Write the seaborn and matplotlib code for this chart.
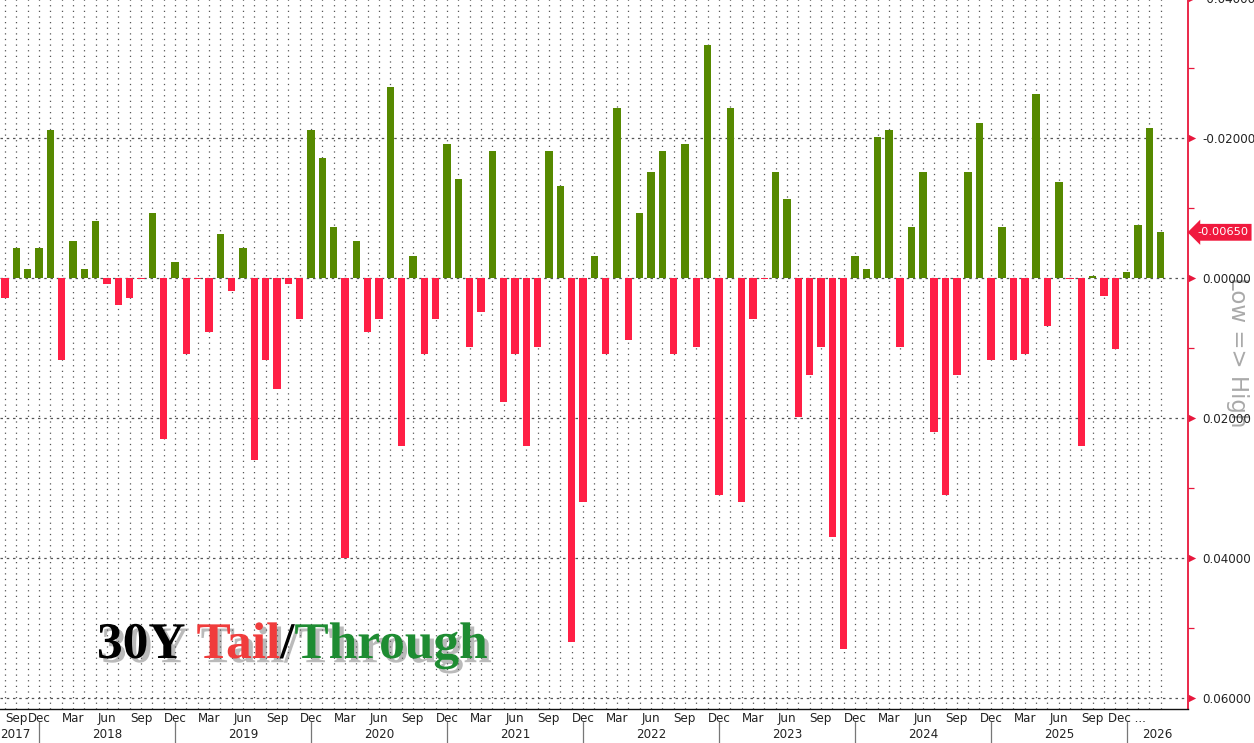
import numpy as np
import pandas as pd
import matplotlib
matplotlib.use("Agg")
import matplotlib.pyplot as plt
import matplotlib.patheffects as pe
import matplotlib.transforms as mtransforms
from matplotlib.lines import Line2D
from matplotlib.ticker import FuncFormatter
import seaborn as sns

# ---- data: 30Y auction tail (+) / through (-), monthly, Sep 2017 onward ----
tail_through = [
    0.0029, -0.0042, -0.0012, -0.0042, -0.0211, 0.0118, -0.0052, -0.0012, -0.0081, 0.0009,
    0.0039, 0.0029, 0.00015, -0.0092, 0.0230, -0.0022, 0.0109, 0.00015, 0.0078, -0.0062,
    0.0019, -0.0042, 0.0260, 0.0118, 0.0159, 0.0009, 0.0059, -0.0211, -0.0171, -0.0072,
    0.0400, -0.0052, 0.0078, 0.0059, -0.0272, 0.0240, -0.0031, 0.0109, 0.0059, -0.0191,
    -0.0141, 0.0099, 0.0049, -0.0181, 0.0178, 0.0109, 0.0240, 0.0099, -0.0181, -0.0131,
    0.0520, 0.0320, -0.0031, 0.0109, -0.0242, 0.0089, -0.0092, -0.0151, -0.0181, 0.0109,
    -0.0191, 0.0099, -0.0332, 0.0310, -0.0242, 0.0320, 0.0059, 0.00015, -0.0151, -0.0112,
    0.0199, 0.0139, 0.0099, 0.0370, 0.0530, -0.0031, -0.0012, -0.0201, -0.0211, 0.0099,
    -0.0072, -0.0151, 0.0220, 0.0310, 0.0139, -0.0151, -0.0221, 0.0118, -0.0072, 0.0118,
    0.0109, -0.0262, 0.0069, -0.0137, 0.00015, 0.0240, -0.0003, 0.0026, 0.0101, -0.0009,
    -0.0076, -0.0214, -0.0065,
]
quarter_months = ["Sep", "Dec", "Mar", "Jun"]
years = ["2017", "2018", "2019", "2020", "2021", "2022", "2023", "2024", "2025", "2026"]
y_major = [-0.04, -0.02, 0.0, 0.02, 0.04, 0.06]
y_minor = [-0.03, -0.01, 0.01, 0.03, 0.05]
last_value_label = "-0.00650"

RED = "#ff1f45"
GREEN = "#568900"
SPINE_RED = "#e8173c"

vals = np.array(tail_through)
n = len(vals)
df = pd.DataFrame({
    "pos": np.arange(n),
    "val": vals,
    "kind": np.where(vals > 0, "Tail", "Through"),
})

sns.set_theme(style="white")
plt.rcParams["font.family"] = ["DejaVu Sans"]
plt.rcParams["axes.unicode_minus"] = False

W, H = 1254, 743
fig = plt.figure(figsize=(W / 100, H / 100), dpi=100)
fig.patch.set_facecolor("white")
ax = fig.add_axes([0, 34 / H, 1188 / W, 714 / H])
ax.set_facecolor("white")

sns.barplot(data=df, x="pos", y="val", hue="kind",
            palette={"Tail": RED, "Through": GREEN}, saturation=1,
            dodge=False, width=0.65, legend=False, errorbar=None,
            native_scale=True, linewidth=0, ax=ax)

ax.set_xlim(-0.44, 104.4)
ax.set_ylim(0.0616, -0.0404)
ax.set_xlabel("")
ax.set_ylabel("")

# x ticks
major_pos = list(range(0, 100, 3))
labels = [quarter_months[k % 4] for k in range(len(major_pos))]
labels[-1] = "Dec ..."
ax.set_xticks(major_pos)
ax.set_xticklabels(labels, fontsize=8.6, color="#222222")
ax.set_xticks(range(n), minor=True)
ax.tick_params(axis="x", which="both", direction="in", length=3, width=0.8,
               color="#333333", pad=2)
lab0 = ax.get_xticklabels()[0]
lab0.set_ha("left")
lab0.set_x(-0.44)

# vertical dotted grid at every month, horizontal at majors
ax.grid(which="both", axis="x", color="#555555", linestyle=(0, (1, 3.5)), linewidth=0.9)
ax.set_yticks(y_major)
ax.set_yticks(y_minor, minor=True)
ax.grid(which="major", axis="y", color="#555555", linestyle=(0, (2, 3)), linewidth=0.9)
ax.set_axisbelow(True)

# y axis on right
ax.yaxis.tick_right()
ax.yaxis.set_major_formatter(FuncFormatter(lambda v, p: "0.00000" if abs(v) < 1e-12 else f"{v:.5f}"))
ax.tick_params(axis="y", which="major", length=0, pad=10, labelsize=8.6, labelcolor="#222222")
ax.tick_params(axis="y", which="minor", length=4, width=0.9, color=SPINE_RED, direction="out")

for s in ["left", "top"]:
    ax.spines[s].set_visible(False)
ax.spines["right"].set_color(SPINE_RED)
ax.spines["right"].set_linewidth(1.3)
ax.spines["bottom"].set_color("#111111")
ax.spines["bottom"].set_linewidth(1.0)

# red triangles at major y ticks
tri_tr = mtransforms.blended_transform_factory(ax.transAxes, ax.transData)
ax.scatter([1.0 + 3.5 / 1188] * len(y_major), y_major, marker=">", s=28,
           color=SPINE_RED, transform=tri_tr, clip_on=False, zorder=5, linewidths=0)

# last value box
ax.text(1.0 + 9 / 1188, vals[-1], last_value_label, transform=tri_tr,
        ha="left", va="center", fontsize=8.2, color="white", zorder=6,
        bbox=dict(boxstyle="larrow,pad=0.3", fc="#f0193e", ec="none"))

# year separators and labels
sep_tr = mtransforms.blended_transform_factory(ax.transData, ax.transAxes)
seps = list(range(3, 100, 12))
for s in seps:
    ax.add_line(Line2D([s, s], [-0.018, -0.06], transform=sep_tr, color="#777777",
                       lw=0.9, clip_on=False))
bounds = [-0.44] + seps + [104.4]
for k, yr in enumerate(years):
    if k == 0:
        ax.text(-0.44, -0.0364, yr, transform=sep_tr, ha="left", va="center",
                fontsize=8.6, color="#222222")
    else:
        ax.text((bounds[k] + bounds[k + 1]) / 2, -0.0364, yr, transform=sep_tr,
                ha="center", va="center", fontsize=8.6, color="#222222")

# rotated axis note
ax.text(1238 / W, 1 - 352 / H, "Low => High", transform=fig.transFigure,
        rotation=-90, ha="center", va="center", fontsize=16.5, color="#a9a9a9",
        zorder=0.3, clip_on=False)

# title with shadow, built piecewise
fig.canvas.draw()
renderer = fig.canvas.get_renderer()
x = 97 / W
yb = 1 - 658 / H
shadow = [pe.withSimplePatchShadow(offset=(3, -3), shadow_rgbFace="#666666", alpha=0.45)]
for txt, col in [("30Y ", "black"), ("Tail", "#f03c3c"), ("/", "black"), ("Through", "#1e8c32")]:
    t = fig.text(x, yb, txt, fontsize=37, fontweight="bold", family="Liberation Serif",
                 color=col, ha="left", va="baseline", path_effects=shadow)
    bb = t.get_window_extent(renderer=renderer)
    x = bb.x1 / W

fig.savefig("out.png", dpi=100, facecolor="white")
